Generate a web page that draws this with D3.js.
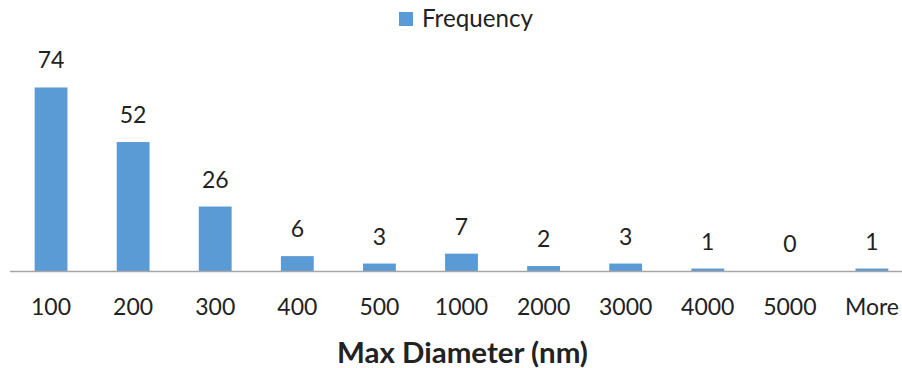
<!DOCTYPE html>
<html>
<head>
<meta charset="utf-8">
<script src="https://cdn.jsdelivr.net/npm/d3@7"></script>
<style>
  html, body { margin: 0; padding: 0; background: #fff; }
  svg { display: block; }
  text { font-family: Lato, "Open Sans", sans-serif; fill: #222; }
</style>
</head>
<body>
<svg id="chart" width="902" height="368"></svg>
<script>
const categories = ["100", "200", "300", "400", "500", "1000", "2000", "3000", "4000", "5000", "More"];
const frequency = [74, 52, 26, 6, 3, 7, 2, 3, 1, 0, 1];
const seriesName = "Frequency";
const xTitle = "Max Diameter (nm)";

const W = 902, H = 368;
const svg = d3.select("#chart");

const x = d3.scaleBand().domain(categories).range([10, 913]).paddingInner(0.6).paddingOuter(0.3);
const y = d3.scaleLinear().domain([0, 80]).range([271, 72.6]);

const color = "#5B9BD5";

// bars
svg.append("g").selectAll("rect").data(categories).join("rect")
  .attr("x", d => x(d))
  .attr("width", x.bandwidth())
  .attr("y", (d, i) => y(frequency[i]))
  .attr("height", (d, i) => y(0) - y(frequency[i]))
  .attr("fill", color);

// axis
const xAxis = d3.axisBottom(x).tickSize(0).tickPadding(0);
const gx = svg.append("g").attr("transform", `translate(0,${y(0)})`).call(xAxis);
gx.select(".domain").remove();
gx.append("line").attr("x1", 10).attr("x2", W).attr("y1", 0.5).attr("y2", 0.5)
  .attr("stroke", "#A6A6A6").attr("stroke-width", 1.3);
gx.selectAll(".tick text")
  .attr("dy", null).attr("y", 44)
  .attr("font-size", 23)
  .attr("font-family", "Lato, sans-serif")
  .attr("fill", "#222");

// data labels
svg.append("g").selectAll("text").data(categories).join("text")
  .attr("x", d => x(d) + x.bandwidth() / 2)
  .attr("y", (d, i) => y(frequency[i]) - 19)
  .attr("text-anchor", "middle")
  .attr("font-size", 23)
  .text((d, i) => frequency[i]);

// axis title
const title = svg.append("text")
  .attr("x", 462.5).attr("y", 363)
  .attr("text-anchor", "middle")
  .attr("font-weight", "bold")
  .attr("font-size", 28)
  .text(xTitle);
(function fit(t, target) {
  const w = t.node().getComputedTextLength();
  const fs = +t.attr("font-size");
  t.attr("font-size", fs * target / w);
})(title, 251);

// legend
const lg = svg.append("g");
lg.append("rect").attr("x", 399).attr("y", 12).attr("width", 14).attr("height", 14).attr("fill", color);
const lt = lg.append("text").attr("x", 422).attr("y", 27).attr("font-size", 21).text(seriesName);
(function fit(t, target) {
  const w = t.node().getComputedTextLength();
  const fs = +t.attr("font-size");
  t.attr("font-size", fs * target / w);
})(lt, 111);
</script>
</body>
</html>
